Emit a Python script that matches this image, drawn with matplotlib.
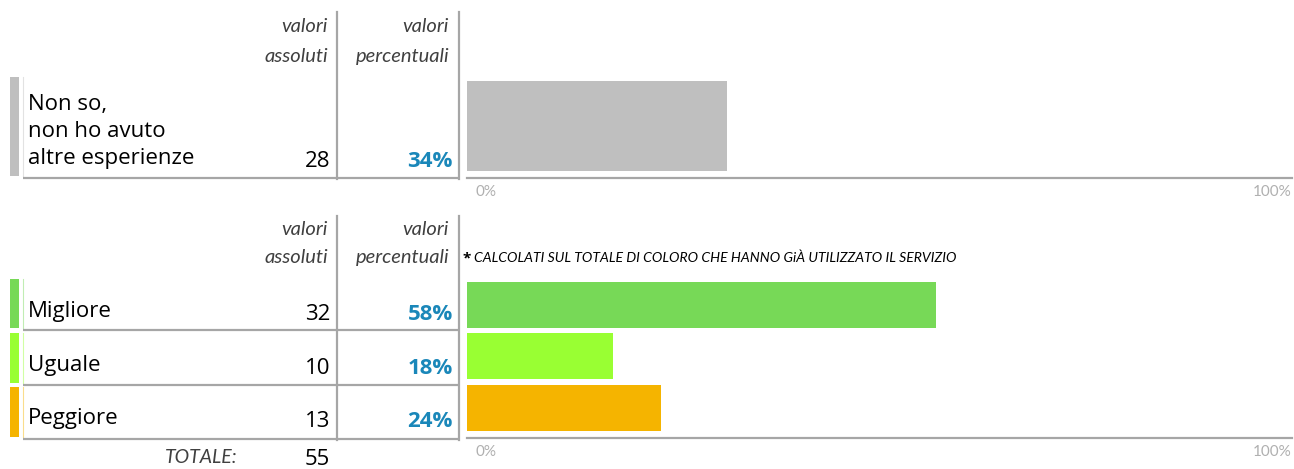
import matplotlib.pyplot as plt
from matplotlib.patches import Rectangle

# data
top_labels = ["Non so,\nnon ho avuto\naltre esperienze"]
top_counts = [28]
top_pct = [0.34]
top_colors = ["#bfbfbf"]

labels = ["Migliore", "Uguale", "Peggiore"]
counts = [32, 10, 13]
pct = [0.58, 0.18, 0.24]
colors = ["#77d957", "#99ff33", "#f5b400"]
totale = 55

note = "CALCOLATI SUL TOTALE DI COLORO CHE HANNO GiÀ UTILIZZATO IL SERVIZIO"

plt.rcParams['font.family'] = ['Open Sans', 'DejaVu Sans']
ITAL = ['Lato', 'DejaVu Sans']

W, H = 1294, 469
fig = plt.figure(figsize=(W / 100, H / 100), dpi=100)

# background axes in pixel coordinates for the table part
tab = fig.add_axes([0, 0, 1, 1])
tab.set_xlim(0, W)
tab.set_ylim(H, 0)
tab.axis('off')

LINE = "#a6a6a6"
BLUE = "#1a87b9"
HEAD = "#404040"


def header(y1, y2):
    kw = dict(ha='right', va='baseline', fontsize=14.5, style='italic', color=HEAD, family=ITAL)
    tab.text(328, y1, "valori", **kw)
    tab.text(328, y2, "assoluti", **kw)
    tab.text(449, y1, "valori", **kw)
    tab.text(449, y2, "percentuali", **kw)


def row(y0, y1, label, n, p, color, baseline, line_below=True):
    tab.add_patch(Rectangle((10, y0), 9, y1 - y0, color=color, lw=0))
    tab.plot([23, 23], [y0, y1], color=color, lw=0.8, alpha=0.45)
    tab.text(28, baseline, label, ha='left', va='baseline', fontsize=16, color='black',
             linespacing=1.38)
    tab.text(330, baseline + 3, str(n), ha='right', va='baseline', fontsize=16, color='black')
    tab.text(453, baseline + 3, f"{round(p * 100)}%", ha='right', va='baseline', fontsize=16,
             fontweight='bold', color=BLUE)
    if line_below:
        tab.plot([23, 459], [y1 + 2, y1 + 2], color=LINE, lw=1.6, solid_capstyle='butt')


# top table
header(32, 62)
tab.plot([337, 337], [12, 179], color=LINE, lw=1.6)
tab.plot([459, 459], [12, 179], color=LINE, lw=1.6)
row(77, 176, top_labels[0], top_counts[0], top_pct[0], top_colors[0], 164)

# bottom table
header(235, 263)
tab.plot([337, 337], [216, 440], color=LINE, lw=1.6)
tab.plot([459, 459], [216, 440], color=LINE, lw=1.6)
row_spans = [(279, 328, 317), (333, 383, 371), (387, 437, 424)]
for (y0, y1, b), lab, n, p, c in zip(row_spans, labels, counts, pct, colors):
    row(y0, y1, lab, n, p, c, b)

tab.text(238, 463, "TOTALE:", ha='right', va='baseline', fontsize=14, style='italic', color=HEAD,
         family=ITAL)
tab.text(330, 465, str(totale), ha='right', va='baseline', fontsize=16, color='black')

tab.text(463, 262, "*", ha='left', va='baseline', fontsize=11, fontweight='bold', color='black')
tab.text(474, 262, note, ha='left', va='baseline', fontsize=10.1, style='italic', color='black',
         family=ITAL)


def bar_axes(top, bottom):
    return fig.add_axes([467 / W, 1 - bottom / H, (1292 - 467) / W, (bottom - top) / H])


def style(ax, label_y):
    for s in ['top', 'right', 'left']:
        ax.spines[s].set_visible(False)
    ax.spines['bottom'].set_color(LINE)
    ax.spines['bottom'].set_linewidth(1.6)
    ax.set_xticks([])
    ax.set_yticks([])
    ax.patch.set_alpha(0)
    kw = dict(transform=ax.transAxes, va='center', fontsize=11, color="#b0b0b0", family=['Lato'])
    ax.text(0.01, label_y, "0%", ha='left', **kw)
    ax.text(1.0, label_y, "100%", ha='right', **kw)


# top bar
ax1 = bar_axes(74, 178)
ax1.barh([0], top_pct, height=0.865, color=top_colors, left=0)
ax1.set_xlim(0, 1.079)
ax1.set_ylim(0.5, -0.5)
style(ax1, -0.13)

# bottom bars
ax2 = bar_axes(279, 438)
ax2.barh(range(len(pct)), pct, height=0.89, color=colors)
ax2.set_xlim(0, 1.02)
ax2.set_ylim(2.58, -0.5)
style(ax2, -0.085)

fig.savefig("out.png", dpi=100)
